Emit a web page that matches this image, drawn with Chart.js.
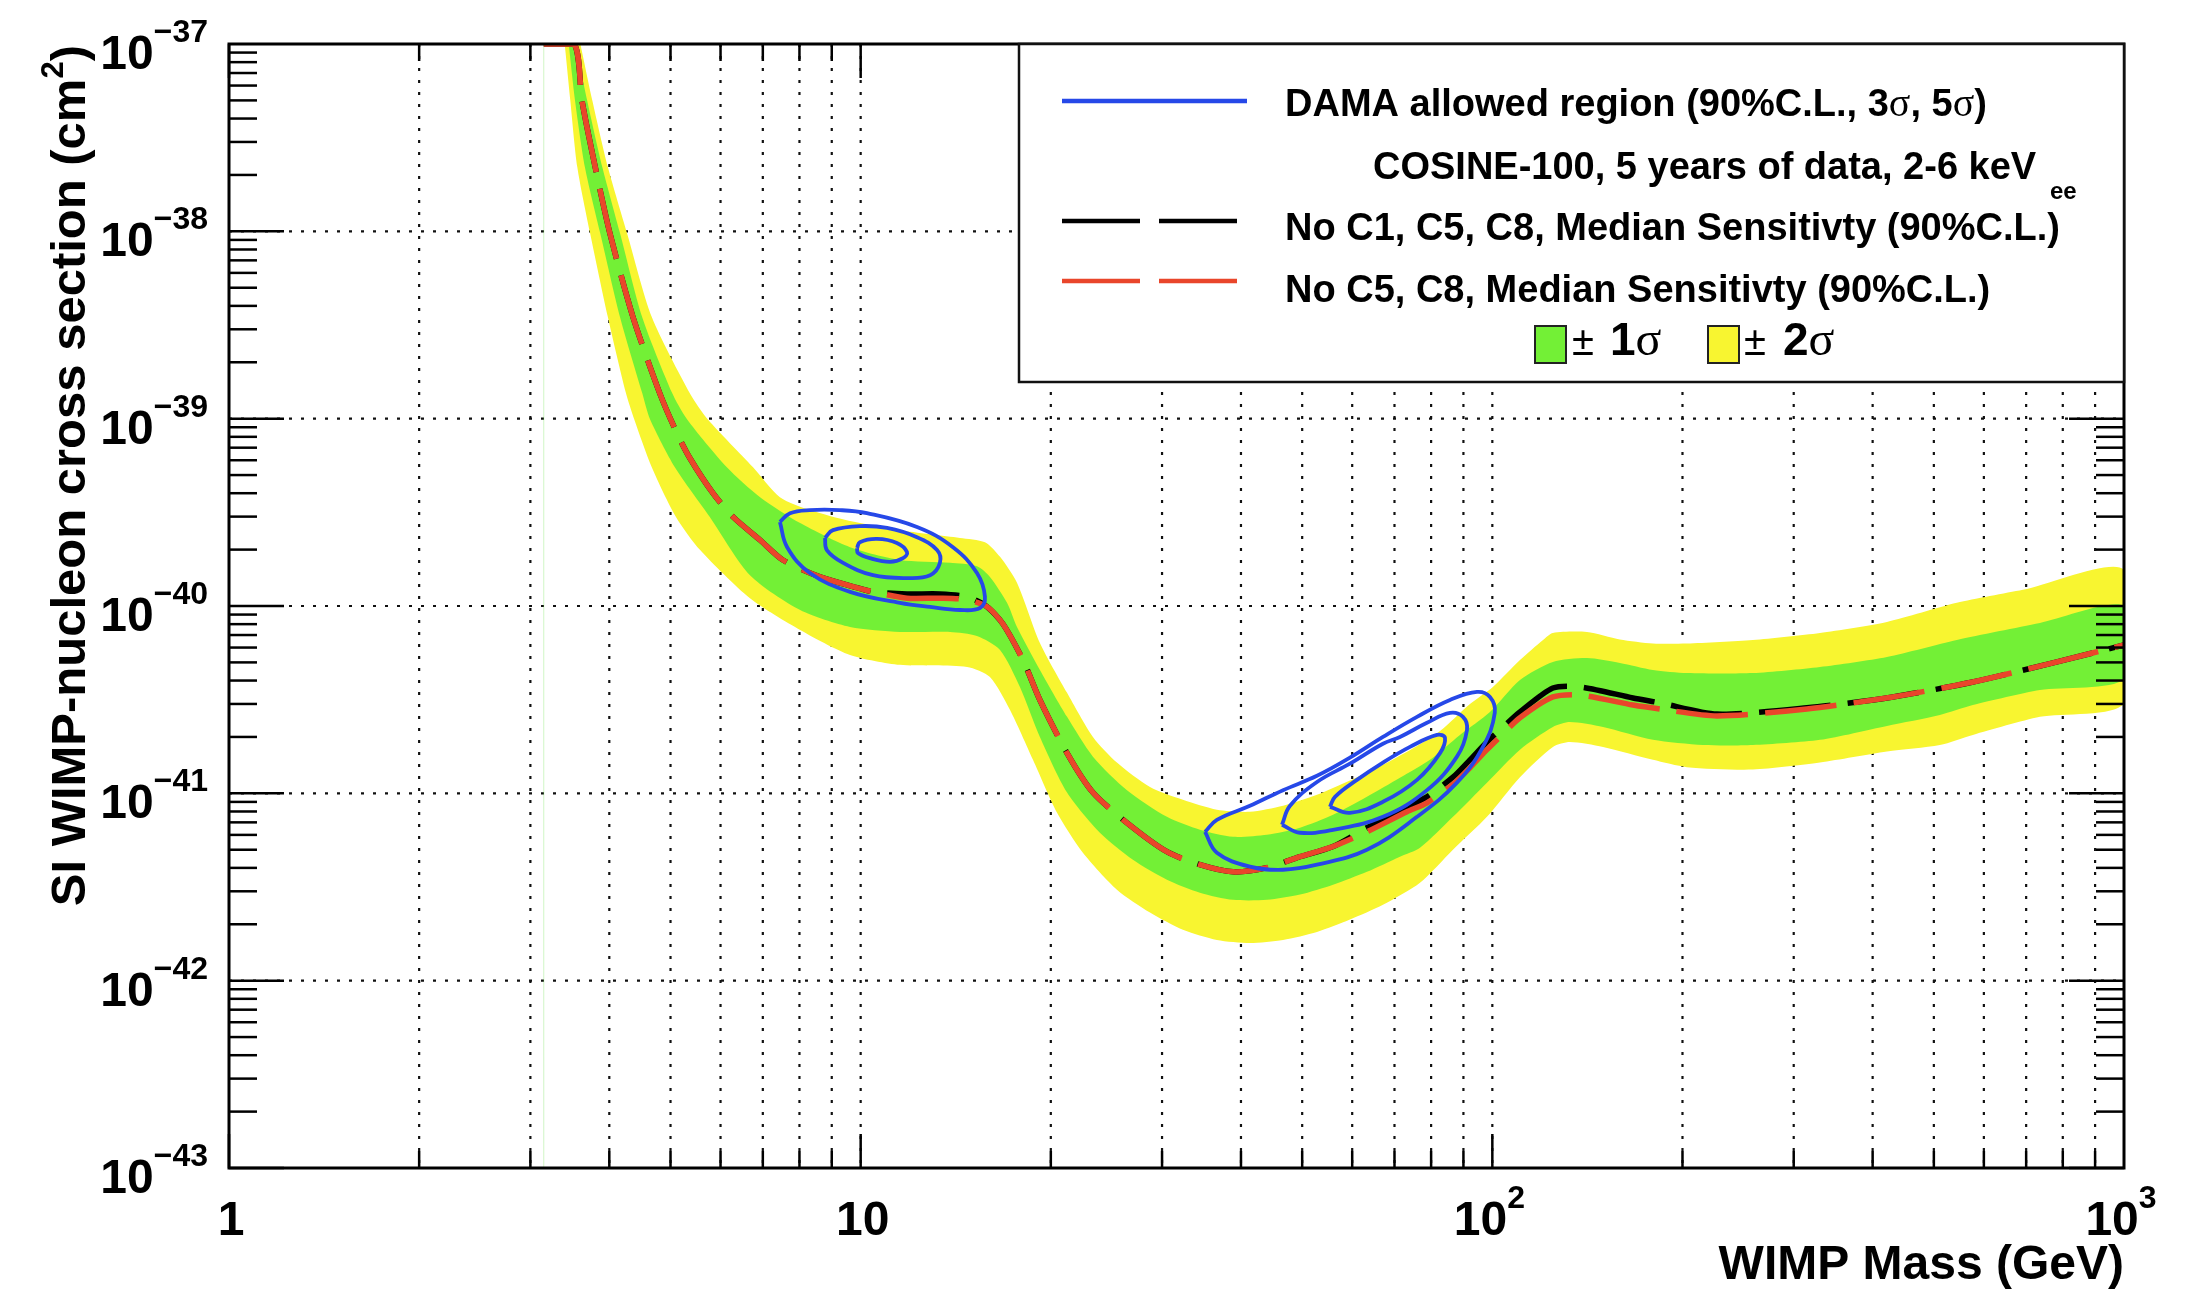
<!DOCTYPE html>
<html>
<head>
<meta charset="utf-8">
<title>COSINE-100 median sensitivity vs DAMA</title>
<script src="https://cdn.jsdelivr.net/npm/chart.js@4.4.1/dist/chart.umd.min.js"></script>
<style>
  html, body { margin: 0; padding: 0; background: #fff; overflow: hidden; }
  canvas { display: block; }
</style>
</head>
<body>
<canvas id="chart" width="2188" height="1290" style="width:2188px;height:1290px"></canvas>
<script>
// ---- data: WIMP mass (GeV) and SI cross section (cm^2) ----

// median sensitivity, both selections share the mass points
const medianMass = [3.15, 3.52, 3.62, 3.80, 4.01, 4.36, 4.81, 5.12, 5.37, 5.84, 6.28, 6.93, 7.53, 8.62, 9.72,
  10.46, 11.84, 13.35, 14.74, 15.85, 16.80, 18.07, 19.22, 21.22, 23.32, 26.40, 30.54, 34.44, 38.86, 43.98,
  49.61, 55.95, 63.31, 73.26, 78.80, 86.63, 92.17, 98.06, 102.8, 110.6, 124.7, 137.6, 167.0, 184.2, 226.8,
  314.8, 430.7, 576.4, 771.9, 1000];
const noC1Xsec = [1e-37, 1e-37, 5.00e-38, 2.20e-38, 9.72e-39, 3.49e-39, 1.36e-39, 8.34e-40, 6.13e-40, 3.99e-40,
  2.99e-40, 2.25e-40, 1.76e-40, 1.43e-40, 1.27e-40, 1.19e-40, 1.16e-40, 1.16e-40, 1.12e-40, 9.91e-41,
  8.02e-41, 5.15e-41, 3.15e-41, 1.64e-41, 1.01e-41, 6.96e-42, 4.88e-42, 4.16e-42, 3.81e-42, 4.01e-42,
  4.59e-42, 5.20e-42, 6.55e-42, 8.47e-42, 9.58e-42, 1.22e-41, 1.51e-41, 1.88e-41, 2.18e-41, 2.72e-41,
  3.65e-41, 3.70e-41, 3.23e-41, 3.04e-41, 2.65e-41, 2.86e-41, 3.27e-41, 3.93e-41, 4.97e-41, 6.19e-41];
const noC5Xsec = [1e-37, 1e-37, 5.00e-38, 2.20e-38, 9.72e-39, 3.49e-39, 1.36e-39, 8.34e-40, 6.13e-40, 3.99e-40,
  2.99e-40, 2.25e-40, 1.76e-40, 1.43e-40, 1.27e-40, 1.19e-40, 1.10e-40, 1.10e-40, 1.08e-40, 9.91e-41,
  8.02e-41, 5.15e-41, 3.15e-41, 1.64e-41, 1.01e-41, 6.96e-42, 4.88e-42, 4.16e-42, 3.81e-42, 4.01e-42,
  4.59e-42, 5.20e-42, 6.23e-42, 7.97e-42, 8.90e-42, 1.12e-41, 1.37e-41, 1.71e-41, 2.00e-41, 2.53e-41,
  3.27e-41, 3.35e-41, 2.96e-41, 2.82e-41, 2.59e-41, 2.82e-41, 3.27e-41, 3.93e-41, 4.97e-41, 6.19e-41];

// +2 sigma / +1 sigma / -1 sigma / -2 sigma band edges
const up2Mass = [3.60, 3.76, 3.98, 4.27, 4.67, 5.37, 5.73, 6.75, 7.45, 8.31, 9.62, 11.54, 14.36, 15.73, 16.62,
  17.68, 19.22, 21.22, 23.32, 25.45, 28.71, 32.37, 36.64, 41.33, 46.63, 52.77, 59.51, 67.12, 75.99, 82.63,
  92.17, 100.2, 110.6, 120.3, 124.7, 141.2, 159.2, 179.6, 203.3, 258.5, 330.1, 421.4, 543.7, 691.8, 1000];
const up2Xsec = [1e-37, 5.00e-38, 2.20e-38, 9.72e-39, 3.49e-39, 1.36e-39, 9.90e-40, 5.52e-40, 3.81e-40, 3.25e-40,
  2.84e-40, 2.54e-40, 2.31e-40, 2.19e-40, 1.83e-40, 1.33e-40, 6.35e-41, 3.44e-41, 2.00e-41, 1.46e-41,
  1.08e-41, 9.23e-42, 8.17e-42, 7.97e-42, 8.58e-42, 9.82e-42, 1.17e-41, 1.42e-41, 1.79e-41, 2.15e-41,
  3.00e-41, 3.70e-41, 5.15e-41, 6.59e-41, 7.18e-41, 7.27e-41, 6.63e-41, 6.31e-41, 6.31e-41, 6.59e-41,
  7.18e-41, 8.22e-41, 1.04e-40, 1.22e-40, 1.56e-40];

const up1Mass = [3.54, 3.69, 3.90, 4.16, 4.51, 5.03, 5.31, 6.14, 6.93, 8.02, 9.62, 11.54, 13.85, 15.28, 16.02,
  17.05, 17.68, 19.22, 21.22, 23.32, 26.40, 30.54, 34.44, 38.86, 43.98, 49.61, 55.95, 63.31, 71.41, 79.67,
  88.86, 99.14, 110.6, 124.7, 141.2, 159.2, 179.6, 203.3, 258.5, 330.1, 421.4, 543.7, 736.1, 1000];
const up1Xsec = [1e-37, 5.00e-38, 2.20e-38, 9.76e-39, 3.48e-39, 1.37e-39, 9.94e-40, 5.51e-40, 3.81e-40, 2.77e-40,
  2.06e-40, 1.76e-40, 1.70e-40, 1.63e-40, 1.43e-40, 1.04e-40, 7.73e-41, 4.56e-41, 2.56e-41, 1.57e-41,
  1.04e-41, 7.49e-42, 6.39e-42, 5.86e-42, 6.01e-42, 6.55e-42, 7.68e-42, 9.58e-42, 1.21e-41, 1.51e-41,
  2.05e-41, 2.72e-41, 4.03e-41, 5.03e-41, 5.28e-41, 4.97e-41, 4.56e-41, 4.39e-41, 4.39e-41, 4.73e-41,
  5.35e-41, 6.59e-41, 8.12e-41, 1.00e-40];

const down1Mass = [3.45, 3.53, 3.66, 3.87, 4.16, 4.51, 4.64, 5.08, 5.77, 6.68, 8.02, 9.62, 11.54, 13.85, 15.28,
  16.62, 17.87, 19.22, 21.22, 23.92, 26.98, 30.54, 34.44, 38.86, 43.98, 49.61, 55.95, 63.31, 71.41, 76.82,
  86.63, 98.06, 110.6, 124.7, 132.7, 149.7, 179.6, 215.5, 258.5, 330.1, 421.4, 511.0, 576.4, 736.1, 1000];
const down1Xsec = [1e-37, 5.00e-38, 2.20e-38, 9.76e-39, 3.48e-39, 1.37e-39, 9.94e-40, 5.51e-40, 2.99e-40, 1.46e-40,
  9.52e-41, 7.73e-41, 7.27e-41, 7.27e-41, 6.92e-41, 5.83e-41, 3.70e-41, 2.00e-41, 1.01e-41, 6.16e-42,
  4.42e-42, 3.46e-42, 2.95e-42, 2.70e-42, 2.70e-42, 2.88e-42, 3.25e-42, 3.81e-42, 4.59e-42, 5.12e-42,
  7.49e-42, 1.14e-41, 1.71e-41, 2.26e-41, 2.40e-41, 2.26e-41, 1.93e-41, 1.81e-41, 1.81e-41, 1.93e-41,
  2.29e-41, 2.62e-41, 2.96e-41, 3.56e-41, 4.08e-41];

const down2Mass = [3.40, 3.47, 3.56, 3.73, 3.98, 4.25, 4.38, 4.67, 5.10, 5.57, 6.68, 8.02, 9.62, 11.54, 14.74,
  16.02, 17.23, 18.74, 20.46, 22.48, 25.45, 28.71, 32.37, 36.64, 41.33, 46.63, 52.77, 59.51, 67.12, 76.82,
  86.63, 98.06, 110.6, 124.7, 132.7, 149.7, 179.6, 203.3, 258.5, 330.1, 421.4, 511.0, 576.4, 736.1, 1000];
const down2Xsec = [1e-37, 5.00e-38, 2.20e-38, 9.76e-39, 3.48e-39, 1.37e-39, 9.94e-40, 5.51e-40, 2.99e-40, 1.99e-40,
  1.10e-40, 7.45e-41, 5.48e-41, 4.85e-41, 4.73e-41, 4.18e-41, 2.79e-41, 1.51e-41, 7.87e-42, 4.82e-42,
  3.06e-42, 2.31e-42, 1.87e-42, 1.65e-42, 1.59e-42, 1.65e-42, 1.82e-42, 2.12e-42, 2.54e-42, 3.33e-42,
  5.00e-42, 7.49e-42, 1.22e-41, 1.77e-41, 1.88e-41, 1.77e-41, 1.51e-41, 1.38e-41, 1.34e-41, 1.46e-41,
  1.67e-41, 1.81e-41, 2.05e-41, 2.56e-41, 3.04e-41];

// left edge of the band polygon, runs the full height
const seamMass = [3.15, 3.15];
const seamXsec = [1e-43, 1e-37];

// DAMA allowed regions, low-mass island (Na) and high-mass island (I)
const damaLowOuterMass = [7.45, 7.73, 8.31, 9.27, 10.23, 12.28, 14.00, 15.28, 15.73, 15.45, 14.36, 12.88, 11.54, 9.62, 8.31, 7.65, 7.45];
const damaLowOuterXsec = [2.81e-40, 3.13e-40, 3.25e-40, 3.25e-40, 3.13e-40, 2.64e-40, 2.06e-40, 1.50e-40, 1.12e-40,
  9.76e-41, 9.52e-41, 9.88e-41, 1.04e-40, 1.19e-40, 1.50e-40, 2.06e-40, 2.81e-40];
const damaLowMidMass = [8.78, 9.04, 9.97, 11.01, 12.28, 13.21, 13.35, 12.88, 11.84, 10.46, 9.38, 8.84, 8.78];
const damaLowMidXsec = [2.31e-40, 2.54e-40, 2.67e-40, 2.61e-40, 2.33e-40, 1.99e-40, 1.70e-40, 1.46e-40, 1.41e-40,
  1.46e-40, 1.70e-40, 1.99e-40, 2.31e-40];
const damaLowInnerMass = [9.87, 9.97, 10.61, 11.41, 11.84, 11.67, 11.13, 10.34, 9.90, 9.87];
const damaLowInnerXsec = [2.04e-40, 2.19e-40, 2.28e-40, 2.17e-40, 1.94e-40, 1.80e-40, 1.72e-40, 1.80e-40, 1.92e-40, 2.04e-40];

const damaHighOuterMass = [35.09, 36.64, 41.33, 46.63, 52.77, 63.31, 75.99, 87.90, 96.63, 100.9, 99.14, 94.55,
  85.69, 75.99, 67.12, 59.51, 52.77, 46.63, 41.33, 36.64, 35.09];
const damaHighOuterXsec = [6.23e-42, 4.82e-42, 4.06e-42, 3.91e-42, 4.16e-42, 5.00e-42, 7.49e-42, 1.14e-41, 1.77e-41,
  2.69e-41, 3.27e-41, 3.48e-41, 3.15e-41, 2.56e-41, 2.00e-41, 1.55e-41, 1.24e-41, 1.04e-41, 8.58e-42, 7.22e-42, 6.23e-42];
const damaHighMidMass = [46.45, 49.61, 55.95, 67.12, 78.80, 87.90, 91.17, 89.84, 85.69, 78.80, 71.41, 67.12, 59.51, 52.77, 47.83, 46.45];
const damaHighMidXsec = [6.79e-42, 6.16e-42, 6.39e-42, 7.49e-42, 1.04e-41, 1.57e-41, 2.18e-41, 2.56e-41, 2.69e-41,
  2.38e-41, 2.00e-41, 1.84e-41, 1.44e-41, 1.15e-41, 8.58e-42, 6.79e-42];
const damaHighInnerMass = [55.33, 59.51, 67.12, 75.99, 82.63, 84.14, 81.73, 74.07, 67.12, 61.05, 56.35, 55.33];
const damaHighInnerXsec = [8.47e-42, 7.87e-42, 9.01e-42, 1.18e-41, 1.64e-41, 1.98e-41, 2.05e-41, 1.77e-41, 1.46e-41,
  1.18e-41, 9.58e-42, 8.47e-42];

// axis labels
const xTickValues = [1, 10, 100, 1000];
const xTickBase = ['1', '10', '10', '10'];
const xTickExp = ['', '', '2', '3'];
const yTickExponents = [-43, -42, -41, -40, -39, -38, -37];

const xTitle = 'WIMP Mass (GeV)';
const yTitle = 'SI WIMP-nucleon cross section (cm';

// ---- styling ----
const SANS = '"Liberation Sans", Arial, Helvetica, sans-serif';
const SERIF = '"Liberation Serif", "Times New Roman", serif';
const BLUE = 'rgb(38,72,232)';
const RED = 'rgb(233,70,43)';
const GREEN = 'rgb(115,240,54)';
const YELLOW = 'rgb(248,245,48)';

function toPoints(mass, xsec) {
  return mass.map((m, i) => ({ x: m, y: xsec[i] }));
}

// closed outline: upper edge left to right, lower edge back again
function bandOutline(upM, upS, downM, downS) {
  return toPoints(upM, upS).concat(toPoints(downM, downS).reverse());
}

// draw a list of text pieces with their own fonts one after another
function drawRuns(ctx, runs, x, y) {
  for (const r of runs) {
    ctx.font = r.font;
    ctx.fillText(r.text, x, y + (r.dy || 0));
    x += ctx.measureText(r.text).width;
  }
  return x;
}

function runsWidth(ctx, runs) {
  let w = 0;
  for (const r of runs) {
    ctx.font = r.font;
    w += ctx.measureText(r.text).width;
  }
  return w;
}

function line(ctx, x1, y1, x2, y2) {
  ctx.beginPath();
  ctx.moveTo(x1, y1);
  ctx.lineTo(x2, y2);
  ctx.stroke();
}

// ROOT-style frame: dotted grid, inward ticks, 10^n labels and the legend box
const rootFrame = {
  id: 'rootFrame',
  beforeDatasetsDraw(chart) {
    const { ctx, chartArea: a, scales: { x, y } } = chart;
    ctx.save();
    ctx.strokeStyle = '#111';
    ctx.lineWidth = 2.2;
    ctx.setLineDash([3, 9]);
    for (let e = 0; e < 3; e++) {
      for (let k = 1; k <= 9; k++) {
        const v = k * Math.pow(10, e);
        if (v === 1) continue;
        const px = x.getPixelForValue(v);
        line(ctx, px, a.top, px, a.bottom);
      }
    }
    for (const e of yTickExponents.slice(1, -1)) {
      const py = y.getPixelForValue(Math.pow(10, e));
      line(ctx, a.left, py, a.right, py);
    }
    ctx.restore();
  },
  afterDatasetsDraw(chart) {
    const { ctx, chartArea: a, scales: { x, y } } = chart;
    ctx.save();
    ctx.strokeStyle = '#000';
    ctx.fillStyle = '#000';
    ctx.setLineDash([]);
    ctx.lineCap = 'butt';

    // ticks
    ctx.lineWidth = 2.5;
    for (let e = 0; e < 3; e++) {
      for (let k = 1; k <= 9; k++) {
        const px = x.getPixelForValue(k * Math.pow(10, e));
        const len = k === 1 ? 34 : 17;
        line(ctx, px, a.bottom, px, a.bottom - len);
        line(ctx, px, a.top, px, a.top + len);
      }
    }
    for (let e = -43; e < -37; e++) {
      for (let k = 1; k <= 9; k++) {
        const py = y.getPixelForValue(k * Math.pow(10, e));
        const len = k === 1 ? 55 : 28;
        line(ctx, a.left, py, a.left + len, py);
        line(ctx, a.right, py, a.right - len, py);
      }
    }

    // frame
    ctx.lineWidth = 3;
    ctx.strokeRect(a.left, a.top, a.right - a.left, a.bottom - a.top);

    // y tick labels
    ctx.textAlign = 'left';
    ctx.textBaseline = 'alphabetic';
    for (const e of yTickExponents) {
      const py = y.getPixelForValue(Math.pow(10, e));
      const sup = '\u2212' + Math.abs(e);
      ctx.font = 'bold 32px ' + SANS;
      const sw = ctx.measureText(sup).width;
      const supX = a.left - 21 - sw;
      ctx.fillText(sup, supX, py - 2);
      ctx.font = 'bold 48px ' + SANS;
      const bw = ctx.measureText('10').width;
      ctx.fillText('10', supX - bw, py + 25);
    }

    // x tick labels
    xTickValues.forEach((v, i) => {
      const px = x.getPixelForValue(v);
      const runs = [{ text: xTickBase[i], font: 'bold 48px ' + SANS }];
      if (xTickExp[i]) runs.push({ text: xTickExp[i], font: 'bold 32px ' + SANS, dy: -27 });
      const w = runsWidth(ctx, runs);
      drawRuns(ctx, runs, px - w / 2 + (xTickExp[i] ? -3 : 2), a.bottom + 67);
    });

    // axis titles
    ctx.font = 'bold 48px ' + SANS;
    ctx.textAlign = 'right';
    ctx.fillText(xTitle, a.right, 1279);
    ctx.textAlign = 'left';

    ctx.save();
    ctx.translate(85, 45);
    ctx.rotate(-Math.PI / 2);
    const yRuns = [
      { text: yTitle, font: 'bold 49px ' + SANS },
      { text: '2', font: 'bold 31px ' + SANS, dy: -22 },
      { text: ')', font: 'bold 49px ' + SANS }
    ];
    drawRuns(ctx, yRuns, -runsWidth(ctx, yRuns), 0);
    ctx.restore();

    // legend
    const lx = 1019, ly = a.top, lr = a.right, lb = 382;
    ctx.fillStyle = '#fff';
    ctx.fillRect(lx, ly, lr - lx, lb - ly);
    ctx.lineWidth = 2.5;
    ctx.strokeStyle = '#111';
    ctx.strokeRect(lx, ly, lr - lx, lb - ly);
    ctx.fillStyle = '#000';

    const bold38 = 'bold 38px ' + SANS;
    const sig38 = '40px ' + SERIF;

    ctx.lineWidth = 4.5;
    ctx.strokeStyle = BLUE;
    line(ctx, 1062, 101, 1247, 101);
    drawRuns(ctx, [
      { text: 'DAMA allowed region (90%C.L., 3', font: bold38 },
      { text: '\u03c3', font: sig38 },
      { text: ', 5', font: bold38 },
      { text: '\u03c3', font: sig38 },
      { text: ')', font: bold38 }
    ], 1285, 116);

    drawRuns(ctx, [{ text: 'COSINE-100, 5 years of data, 2-6 keV', font: bold38 }], 1373, 179);
    drawRuns(ctx, [{ text: 'ee', font: 'bold 24px ' + SANS }], 2050, 199);

    ctx.strokeStyle = '#000';
    line(ctx, 1062, 221, 1140, 221);
    line(ctx, 1159, 221, 1237, 221);
    drawRuns(ctx, [{ text: 'No C1, C5, C8, Median Sensitivty (90%C.L.)', font: bold38 }], 1285, 240);

    ctx.strokeStyle = RED;
    line(ctx, 1062, 281, 1140, 281);
    line(ctx, 1159, 281, 1237, 281);
    drawRuns(ctx, [{ text: 'No C5, C8, Median Sensitivty (90%C.L.)', font: bold38 }], 1285, 302);

    ctx.lineWidth = 2;
    ctx.strokeStyle = '#222';
    ctx.fillStyle = GREEN;
    ctx.fillRect(1535, 326, 31, 37);
    ctx.strokeRect(1535, 326, 31, 37);
    ctx.fillStyle = YELLOW;
    ctx.fillRect(1708, 326, 31, 37);
    ctx.strokeRect(1708, 326, 31, 37);
    ctx.fillStyle = '#000';
    drawRuns(ctx, [{ text: '\u00b1', font: '40px ' + SANS }], 1572, 355);
    drawRuns(ctx, [{ text: '1', font: 'bold 46px ' + SANS }, { text: '\u03c3', font: '48px ' + SERIF }], 1610, 355);
    drawRuns(ctx, [{ text: '\u00b1', font: '40px ' + SANS }], 1744, 355);
    drawRuns(ctx, [{ text: '2', font: 'bold 46px ' + SANS }, { text: '\u03c3', font: '48px ' + SERIF }], 1783, 355);

    ctx.restore();
  }
};

const damaStyle = { borderColor: BLUE, borderWidth: 3.8, tension: 0.4, fill: false, pointRadius: 0 };
const medianStyle = { borderWidth: 5.5, borderDash: [72, 17], borderCapStyle: 'butt', tension: 0.25, fill: false, pointRadius: 0 };

// first dataset is drawn on top
const datasets = [
  { label: 'DAMA low 90%', data: toPoints(damaLowInnerMass, damaLowInnerXsec), ...damaStyle },
  { label: 'DAMA low 3 sigma', data: toPoints(damaLowMidMass, damaLowMidXsec), ...damaStyle },
  { label: 'DAMA low 5 sigma', data: toPoints(damaLowOuterMass, damaLowOuterXsec), ...damaStyle },
  { label: 'DAMA high 90%', data: toPoints(damaHighInnerMass, damaHighInnerXsec), ...damaStyle },
  { label: 'DAMA high 3 sigma', data: toPoints(damaHighMidMass, damaHighMidXsec), ...damaStyle },
  { label: 'DAMA high 5 sigma', data: toPoints(damaHighOuterMass, damaHighOuterXsec), ...damaStyle },
  { label: 'No C5, C8', data: toPoints(medianMass, noC5Xsec), borderColor: RED, ...medianStyle },
  { label: 'No C1, C5, C8', data: toPoints(medianMass, noC1Xsec), borderColor: '#000', ...medianStyle },
  { label: '1 sigma', data: bandOutline(up1Mass, up1Xsec, down1Mass, down1Xsec),
    backgroundColor: GREEN, borderWidth: 0, fill: 'shape', tension: 0.25, pointRadius: 0 },
  { label: '2 sigma', data: bandOutline(up2Mass, up2Xsec, down2Mass, down2Xsec),
    backgroundColor: YELLOW, borderWidth: 0, fill: 'shape', tension: 0.25, pointRadius: 0 },
  { label: 'band edge', data: toPoints(seamMass, seamXsec), borderColor: 'rgba(120,225,90,0.35)',
    borderWidth: 1, fill: false, pointRadius: 0 }
];

new Chart(document.getElementById('chart'), {
  type: 'line',
  data: { datasets },
  options: {
    responsive: false,
    animation: false,
    devicePixelRatio: 1,
    layout: { padding: { left: 229, right: 64, top: 44, bottom: 122 } },
    scales: {
      x: { type: 'logarithmic', min: 1, max: 1000, display: false },
      y: { type: 'logarithmic', min: 1e-43, max: 1e-37, display: false }
    },
    plugins: {
      legend: { display: false },
      tooltip: { enabled: false }
    }
  },
  plugins: [rootFrame]
});
</script>
</body>
</html>
